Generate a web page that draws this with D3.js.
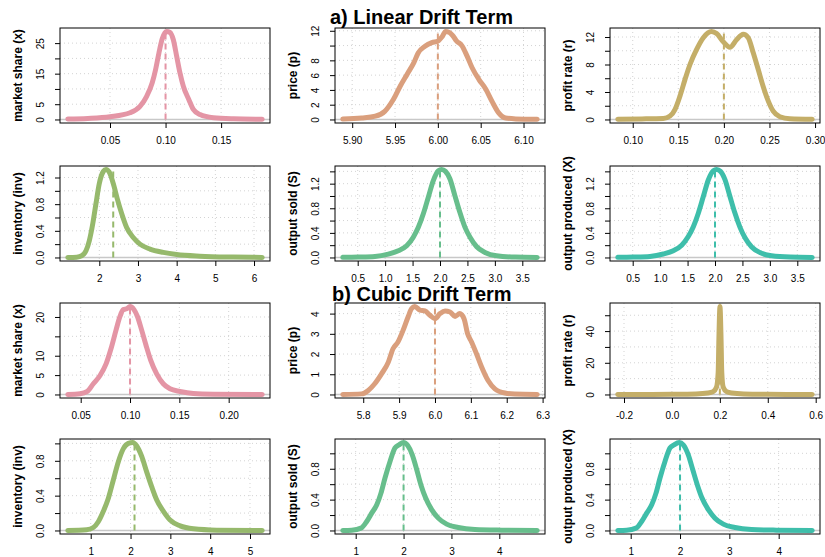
<!DOCTYPE html>
<html><head><meta charset="utf-8">
<script src="https://cdn.jsdelivr.net/npm/d3@7"></script>
<style>body{margin:0;background:#fff} svg{display:block;font-family:"Liberation Sans",Arial,sans-serif}</style>
</head><body><svg id="c" width="825" height="557"></svg>
<script>
const titles = ["a) Linear Drift Term", "b) Cubic Drift Term"];
const varLabels = ["market share (x)", "price (p)", "profit rate (r)", "inventory (inv)", "output sold (S)", "output produced (X)"];
const colors = ["#E495A5", "#DA9F7D", "#C4AE68", "#96B96C", "#67BE8C", "#3EBEAA"];

const linShare = [[0.012,0.15],[0.030,0.35],[0.050,0.9],[0.068,2.2],[0.077,4.3],[0.083,7.6],[0.088,12.0],[0.091,16.3],[0.094,21.7],[0.097,26.4],[0.101,28.8],[0.104,28.5],[0.107,26.1],[0.110,20.7],[0.113,15.2],[0.116,10.9],[0.121,6.5],[0.125,3.3],[0.131,1.6],[0.143,0.55],[0.161,0.2],[0.187,0.05]];
const linPrice = [[5.889,0.05],[5.911,0.2],[5.927,0.45],[5.938,1.1],[5.948,2.7],[5.956,4.5],[5.964,6.1],[5.972,7.7],[5.977,9.0],[5.985,9.9],[5.993,10.4],[6.000,10.6],[6.005,11.2],[6.009,11.9],[6.013,11.8],[6.017,11.4],[6.022,10.6],[6.028,10.0],[6.034,8.6],[6.040,7.0],[6.048,5.4],[6.056,4.1],[6.063,2.5],[6.071,0.9],[6.079,0.2],[6.091,0.08],[6.116,0.03]];
const linProfit = [[0.0836,0.05],[0.110,0.08],[0.1335,0.15],[0.1409,0.5],[0.1463,1.45],[0.1518,3.4],[0.1573,5.8],[0.1628,8.0],[0.1701,10.2],[0.1774,11.9],[0.1865,12.8],[0.192,12.5],[0.1993,11.3],[0.2066,10.5],[0.2139,11.6],[0.2212,12.4],[0.2267,11.9],[0.2322,9.7],[0.2376,7.3],[0.2431,4.8],[0.2486,2.7],[0.2541,1.2],[0.2614,0.4],[0.2724,0.1],[0.2969,0.03]];
const linInv = [[1.185,0],[1.416,0.005],[1.545,0.025],[1.656,0.1],[1.741,0.25],[1.829,0.5],[1.914,0.81],[2.0,1.11],[2.103,1.29],[2.173,1.32],[2.258,1.28],[2.361,1.11],[2.465,0.88],[2.578,0.66],[2.707,0.45],[2.878,0.30],[3.051,0.20],[3.31,0.126],[3.653,0.076],[4.0,0.045],[4.6,0.02],[5.46,0.006],[6.212,0.001]];
const linSold = [[0.228,0.002],[0.511,0.006],[0.815,0.016],[1.058,0.055],[1.24,0.11],[1.393,0.19],[1.513,0.33],[1.605,0.49],[1.696,0.71],[1.787,0.98],[1.878,1.25],[1.97,1.41],[2.03,1.43],[2.10,1.40],[2.18,1.28],[2.27,1.01],[2.36,0.74],[2.456,0.49],[2.547,0.33],[2.669,0.175],[2.82,0.082],[3.03,0.027],[3.37,0.006],[3.772,0.001]];
const linProduced = [[0.228,0.002],[0.511,0.006],[0.815,0.017],[1.058,0.056],[1.24,0.11],[1.393,0.2],[1.513,0.34],[1.605,0.5],[1.696,0.72],[1.787,0.99],[1.878,1.26],[1.97,1.41],[2.03,1.43],[2.10,1.40],[2.18,1.27],[2.27,1.0],[2.36,0.73],[2.456,0.49],[2.547,0.32],[2.669,0.17],[2.82,0.08],[3.03,0.027],[3.37,0.006],[3.772,0.001]];
const cubShare = [[0.0369,0],[0.0493,0.17],[0.0567,0.78],[0.0628,2.76],[0.0696,4.9],[0.0757,7.9],[0.0807,11.8],[0.0858,16.6],[0.0899,20.2],[0.0932,21.9],[0.0966,22.1],[0.1,22.7],[0.104,21.9],[0.1074,20.2],[0.1118,16.6],[0.1162,12.7],[0.121,8.8],[0.127,5.3],[0.1337,2.76],[0.1405,1.47],[0.1507,0.78],[0.1642,0.26],[0.1845,0.09],[0.234,0.01]];
const cubPrice = [[5.743,0.005],[5.795,0.03],[5.814,0.2],[5.832,0.53],[5.851,1.02],[5.870,1.6],[5.883,2.26],[5.897,2.6],[5.911,3.17],[5.925,3.83],[5.935,4.25],[5.944,4.35],[5.958,4.17],[5.972,4.13],[5.986,3.92],[6.0,3.75],[6.014,4.0],[6.028,4.13],[6.042,4.08],[6.056,3.86],[6.069,4.0],[6.081,3.75],[6.091,3.0],[6.102,2.6],[6.116,2.0],[6.130,1.36],[6.148,0.69],[6.167,0.28],[6.195,0.07],[6.222,0.02],[6.285,0.002]];
const cubProfit = [[-0.226,0.02],[-0.1,0.05],[0.0,0.12],[0.1,0.35],[0.15,0.9],[0.172,1.8],[0.186,4.6],[0.193,14],[0.196,35],[0.199,52],[0.2005,55.5],[0.202,52],[0.205,35],[0.208,14],[0.214,4.6],[0.228,1.8],[0.25,0.9],[0.3,0.35],[0.4,0.12],[0.5,0.05],[0.5855,0.02]];
const cubInv = [[0.424,0],[0.899,0.008],[1.067,0.034],[1.19,0.10],[1.317,0.22],[1.443,0.37],[1.568,0.58],[1.694,0.79],[1.82,0.94],[1.945,1.0],[2.055,1.01],[2.156,0.97],[2.281,0.85],[2.407,0.67],[2.533,0.50],[2.658,0.35],[2.826,0.22],[2.993,0.12],[3.245,0.053],[3.58,0.019],[4.166,0.004],[5.307,0]];
const cubSold = [[0.73,0],[0.916,0.004],[1.11,0.03],[1.23,0.117],[1.334,0.225],[1.44,0.333],[1.528,0.484],[1.612,0.68],[1.717,0.895],[1.821,1.07],[1.905,1.11],[1.996,1.14],[2.087,1.10],[2.182,0.98],[2.274,0.79],[2.363,0.59],[2.462,0.42],[2.587,0.27],[2.725,0.16],[2.9,0.082],[3.143,0.039],[3.491,0.013],[4.05,0.004],[4.792,0]];
const cubProduced = [[0.738,0],[0.919,0.004],[1.107,0.03],[1.222,0.117],[1.324,0.225],[1.426,0.333],[1.513,0.484],[1.594,0.68],[1.695,0.895],[1.797,1.07],[1.878,1.11],[1.985,1.14],[2.066,1.11],[2.168,0.98],[2.257,0.79],[2.351,0.59],[2.446,0.42],[2.574,0.27],[2.709,0.16],[2.878,0.082],[3.115,0.039],[3.448,0.013],[3.955,0.004],[4.68,0]];

const densities = [linShare, linPrice, linProfit, linInv, linSold, linProduced,
                   cubShare, cubPrice, cubProfit, cubInv, cubSold, cubProduced];
const means = [0.10, 6.00, 0.20, 2.36, 2.00, 2.00, 0.10, 6.00, 0.20, 2.10, 2.00, 2.00];

const xTickLabels = [
  ["0.05","0.10","0.15"],
  ["5.90","5.95","6.00","6.05","6.10"],
  ["0.10","0.15","0.20","0.25","0.30"],
  ["2","3","4","5","6"],
  ["0.5","1.0","1.5","2.0","2.5","3.0","3.5"],
  ["0.5","1.0","1.5","2.0","2.5","3.0","3.5"],
  ["0.05","0.10","0.15","0.20"],
  ["5.8","5.9","6.0","6.1","6.2","6.3"],
  ["-0.2","0.0","0.2","0.4","0.6"],
  ["1","2","3","4","5"],
  ["1","2","3","4"],
  ["1","2","3","4"]
];
const yTicks = [
  [0,5,10,15,20,25],
  [0,2,4,6,8,10,12],
  [0,2,4,6,8,10,12],
  [0,0.2,0.4,0.6,0.8,1.0,1.2],
  [0,0.2,0.4,0.6,0.8,1.0,1.2,1.4],
  [0,0.2,0.4,0.6,0.8,1.0,1.2,1.4],
  [0,5,10,15,20],
  [0,1,2,3,4],
  [0,10,20,30,40,50],
  [0,0.2,0.4,0.6,0.8,1.0],
  [0,0.2,0.4,0.6,0.8,1.0],
  [0,0.2,0.4,0.6,0.8,1.0]
];
const yTickLabels = [
  ["0","5","15","25"],
  ["0","2","4","6","8","12"],
  ["0","4","8","12"],
  ["0.0","0.4","0.8","1.2"],
  ["0.0","0.4","0.8","1.2"],
  ["0.0","0.4","0.8","1.2"],
  ["0","5","10","20"],
  ["0","1","2","3","4"],
  ["0","20","40"],
  ["0.0","0.4","0.8"],
  ["0.0","0.4","0.8"],
  ["0.0","0.4","0.8"]
];

const rowTop = [28, 166, 303, 439];
const colW = 275, plotLeft = 60, plotW = 210, plotH = 95;

const svg = d3.select("#c");

densities.forEach((pts, i) => {
  const r = Math.floor(i / 3), c = i % 3;
  const L = c * colW + plotLeft, T = rowTop[r];
  const ext = d3.extent(pts, d => d[0]);
  const pad = (ext[1] - ext[0]) * 0.04;
  const x = d3.scaleLinear().domain([ext[0] - pad, ext[1] + pad]).range([L, L + plotW]);
  const ymax = d3.max(pts, d => d[1]);
  const y = d3.scaleLinear().domain([-0.04 * ymax, 1.04 * ymax]).range([T + plotH, T]);
  const col = colors[i % 6];
  const g = svg.append("g");

  const xt = xTickLabels[i].map(Number);
  g.selectAll(".gx").data(xt).join("line")
    .attr("x1", d => x(d)).attr("x2", d => x(d)).attr("y1", T).attr("y2", T + plotH)
    .attr("stroke", "#d3d3d3").attr("stroke-dasharray", "1,3");
  g.selectAll(".gy").data(yTicks[i]).join("line")
    .attr("x1", L).attr("x2", L + plotW).attr("y1", d => y(d)).attr("y2", d => y(d))
    .attr("stroke", "#d3d3d3").attr("stroke-dasharray", "1,3");
  g.append("line").attr("x1", L).attr("x2", L + plotW).attr("y1", y(0)).attr("y2", y(0))
    .attr("stroke", "#c8c8c8").attr("stroke-width", 1.5);
  const line = d3.line().x(d => x(d[0])).y(d => y(d[1])).curve(d3.curveMonotoneX);
  g.append("path").attr("d", line(pts)).attr("fill", "none").attr("stroke", col)
    .attr("stroke-width", 5).attr("stroke-linecap", "round").attr("stroke-linejoin", "round");
  g.append("line").attr("x1", x(means[i])).attr("x2", x(means[i]))
    .attr("y1", y(0)).attr("y2", y(ymax))
    .attr("stroke", col).attr("stroke-width", 2).attr("stroke-dasharray", "6,4");
  g.append("rect").attr("x", L).attr("y", T).attr("width", plotW).attr("height", plotH)
    .attr("fill", "none").attr("stroke", "#000").attr("stroke-width", 1);

  const xa = g.append("g").attr("transform", `translate(0,${T + plotH})`)
    .call(d3.axisBottom(x).tickValues(xt).tickSize(5).tickPadding(9)
      .tickFormat((d, k) => xTickLabels[i][k]));
  xa.select(".domain").remove();
  xa.attr("font-family", null).attr("font-size", null);
  xa.selectAll("text").attr("font-size", 10).attr("fill", "#000");
  xa.selectAll("line").attr("stroke", "#000");

  const ya = g.append("g").attr("transform", `translate(${L},0)`)
    .call(d3.axisLeft(y).tickValues(yTicks[i]).tickSize(5)
      .tickFormat(d => yTickLabels[i].find(s => Math.abs(+s - d) < 1e-9) || ""));
  ya.select(".domain").remove();
  ya.attr("font-family", null).attr("font-size", null);
  ya.selectAll("line").attr("stroke", "#000");
  ya.selectAll("text").attr("font-size", 10).attr("fill", "#000")
    .attr("transform", "rotate(-90)").attr("text-anchor", "middle")
    .attr("x", 0).attr("y", -20).attr("dy", "0.35em");

  svg.append("text").attr("transform", `translate(${c * colW + 18},${T + plotH / 2}) rotate(-90)`)
    .attr("text-anchor", "middle").attr("dy", "0.35em")
    .attr("font-size", 12).attr("font-weight", "bold").text(varLabels[i % 6]);
});

svg.append("text").attr("x", 330).attr("y", 24).attr("font-size", 20).attr("font-weight", "bold").text(titles[0]);
svg.append("text").attr("x", 332).attr("y", 301).attr("font-size", 20).attr("font-weight", "bold").text(titles[1]);
</script>
</body></html>
